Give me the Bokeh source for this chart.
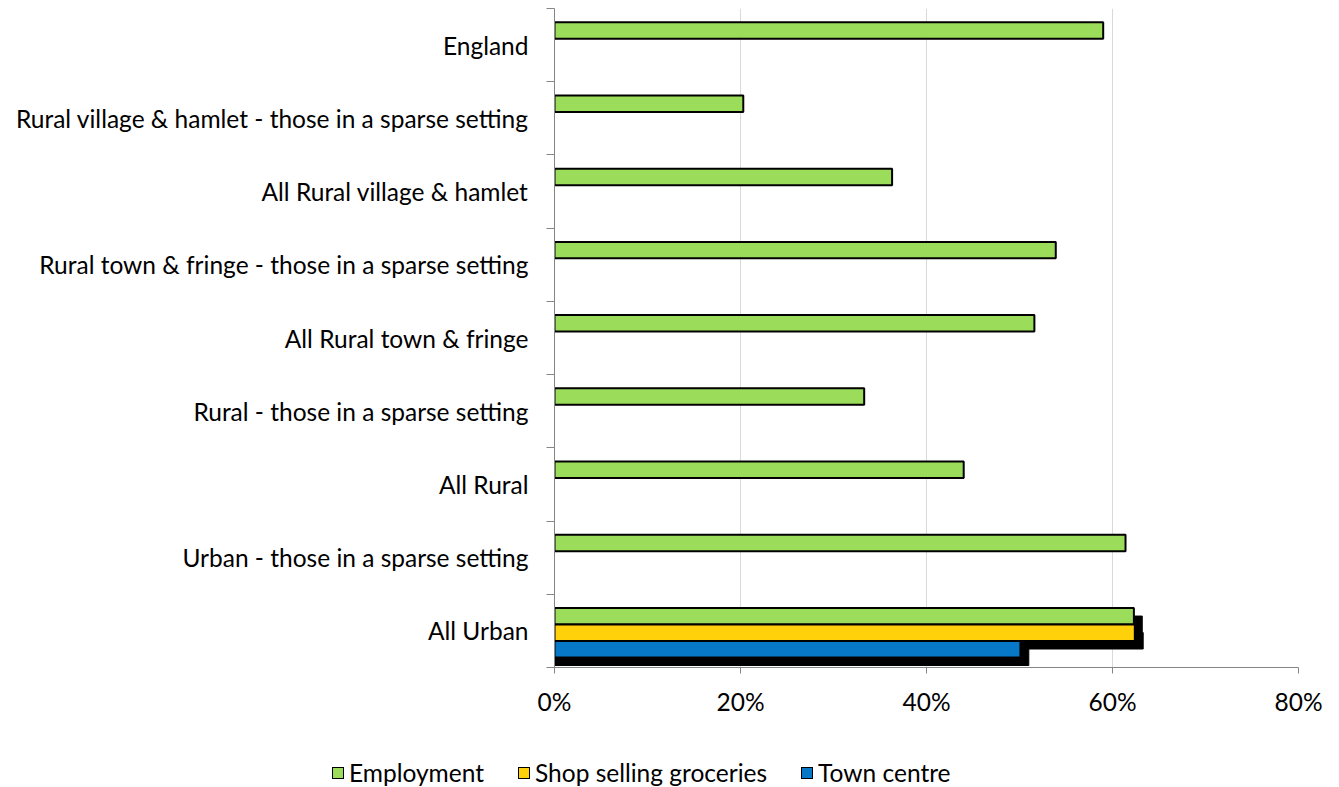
from bokeh.plotting import figure
from bokeh.layouts import column
from bokeh.models import ColumnDataSource, Range1d, FixedTicker, Div
from bokeh.embed import file_html
from bokeh.resources import INLINE

# ---- data (bottom to top) ----
categories = [
    "All Urban",
    "Urban - those in a sparse setting",
    "All Rural",
    "Rural - those in a sparse setting",
    "All Rural town & fringe",
    "Rural town & fringe - those in a sparse setting",
    "All Rural village & hamlet",
    "Rural village & hamlet - those in a sparse setting",
    "England",
]
employment = [62.3, 61.4, 44.0, 33.3, 51.6, 53.9, 36.3, 20.3, 59.0]
shop_groceries = [62.4, None, None, None, None, None, None, None, None]
town_centre = [50.1, None, None, None, None, None, None, None, None]
x_ticks = [0, 20, 40, 60, 80]
x_tick_labels = ["0%", "20%", "40%", "60%", "80%"]

series = [
    ("Employment", employment, "#9BDD5B", 0.20),
    ("Shop selling groceries", shop_groceries, "#FFD10A", -0.025),
    ("Town centre", town_centre, "#0778C8", -0.25),
]

FONT = "Lato"
FS = "24.5px"
BAR_H = 0.225

p = figure(width=1339, height=740, output_backend="svg", toolbar_location=None,
           x_range=Range1d(0, 80), y_range=Range1d(0, len(categories)),
           min_border_left=554, min_border_right=41, min_border_top=8,
           min_border_bottom=73)
p.outline_line_color = None
p.background_fill_color = "white"
p.border_fill_color = "white"

# grid
p.ygrid.grid_line_color = None
p.xgrid.grid_line_color = "#D9D9D9"
p.xgrid.grid_line_width = 1
p.xgrid.ticker = FixedTicker(ticks=x_ticks)

# shadows (visible on the All Urban group)
for name, vals, color, off in series:
    v = vals[0]
    if v is not None:
        src = ColumnDataSource(dict(y=[0.5 + off - 0.11], right=[v + 0.9]))
        p.hbar(y="y", left=0, right="right", height=BAR_H, source=src,
               fill_color="black", line_color="black")

for name, vals, color, off in series:
    ys = [i + 0.5 + off for i, v in enumerate(vals) if v is not None]
    rs = [v for v in vals if v is not None]
    src = ColumnDataSource(dict(y=ys, right=rs))
    p.hbar(y="y", left=0, right="right", height=BAR_H, source=src,
           fill_color=color, line_color="black", line_width=2)

# x axis
xa = p.xaxis[0]
xa.ticker = FixedTicker(ticks=x_ticks)
xa.major_label_overrides = dict(zip(x_ticks, x_tick_labels))
xa.axis_line_color = "#868686"
xa.major_tick_line_color = "#868686"
xa.major_tick_out = 6
xa.major_tick_in = 0
xa.minor_tick_line_color = None
xa.major_label_text_font = FONT
xa.major_label_text_font_size = FS
xa.major_label_text_color = "black"
xa.major_label_standoff = 13

# y axis
ya = p.yaxis[0]
ya.ticker = FixedTicker(ticks=[i + 0.5 for i in range(len(categories))],
                        minor_ticks=list(range(len(categories) + 1)))
ya.major_label_overrides = {i + 0.5: c for i, c in enumerate(categories)}
ya.axis_line_color = "#868686"
ya.major_tick_line_color = None
ya.major_tick_out = 0
ya.major_tick_in = 0
ya.minor_tick_line_color = "#868686"
ya.minor_tick_out = 8
ya.minor_tick_in = 0
ya.major_label_text_font = FONT
ya.major_label_text_font_size = FS
ya.major_label_text_color = "black"
ya.major_label_standoff = 18

# ---- legend strip below the chart (real text) ----
legend_html = "".join(
    f'<span style="display:inline-flex;align-items:center;margin-right:34px;">'
    f'<span style="display:inline-block;width:12px;height:12px;'
    f'border:1.5px solid black;background:{color};margin-right:5px;"></span>'
    f'{name}</span>'
    for name, vals, color, off in series
)
lg = Div(text=f'<div style="font-family:Lato;font-size:{FS};color:black;'
              f'line-height:30px;white-space:nowrap;">{legend_html}</div>',
         width=1339, height=47,
         styles={"padding-left": "327px", "padding-top": "10px",
                 "box-sizing": "border-box"})

layout = column(p, lg, spacing=0)
open("out.html", "w").write(file_html(layout, INLINE))
